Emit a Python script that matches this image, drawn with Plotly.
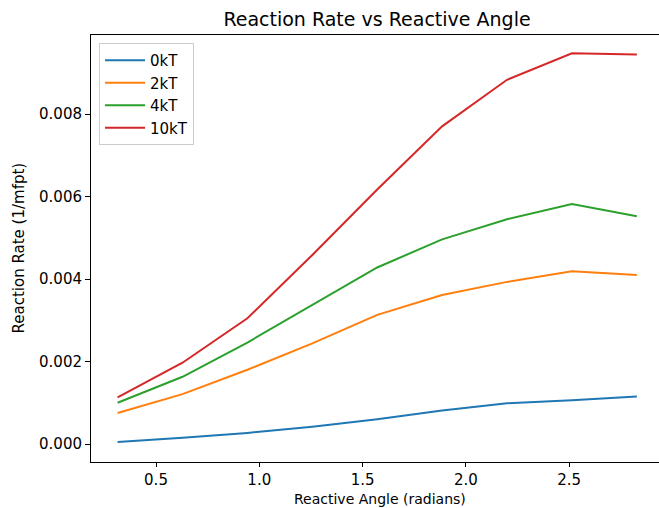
import numpy as np
import plotly.graph_objects as go

angles = [np.pi * k / 10 for k in range(1, 10)]
series_names = ["0kT", "2kT", "4kT", "10kT"]
rate_0kT = [0.00005, 0.00015, 0.00027, 0.00042, 0.00060, 0.00081, 0.00099, 0.00106, 0.00115]
rate_2kT = [0.00075, 0.00121, 0.00180, 0.00244, 0.00313, 0.00361, 0.00393, 0.00419, 0.00410]
rate_4kT = [0.00100, 0.00163, 0.00246, 0.00337, 0.00428, 0.00496, 0.00545, 0.00582, 0.00552]
rate_10kT = [0.00113, 0.00197, 0.00305, 0.00458, 0.00617, 0.00770, 0.00883, 0.00947, 0.00944]
y_ticks = [0.000, 0.002, 0.004, 0.006, 0.008]
x_ticks = [0.5, 1.0, 1.5, 2.0, 2.5]

colors = ["#1f77b4", "#ff7f0e", "#2ca02c", "#d62728"]
font_family = "DejaVu Sans"

fig = go.Figure()
for name, vals, c in zip(series_names, [rate_0kT, rate_2kT, rate_4kT, rate_10kT], colors):
    fig.add_trace(go.Scatter(x=angles, y=vals, mode="lines", name=name,
                             line=dict(color=c, width=2)))

W, H = 659, 508
L, T, B = 91, 35, 46
fig.update_layout(
    width=W, height=H,
    margin=dict(l=L, r=0, t=T, b=B),
    paper_bgcolor="white", plot_bgcolor="white",
    font=dict(family=font_family, size=15, color="black"),
    title=dict(text="Reaction Rate vs Reactive Angle", x=377 / W, xref="container",
               xanchor="center", y=1 - 19 / H, yref="container", yanchor="middle",
               font=dict(size=19, family=font_family, color="black")),
    showlegend=True,
    legend=dict(x=(99 - L) / (W - L), y=1 - (43 - T) / (462 - T), xanchor="left", yanchor="top",
                bgcolor="rgba(255,255,255,0.8)", bordercolor="#cccccc", borderwidth=1,
                itemwidth=40,
                font=dict(size=15, family=font_family, color="black")),
    xaxis=dict(range=[0.1854, 2.9347], tickvals=x_ticks, ticktext=[f"{v:.1f}" for v in x_ticks],
               showgrid=False, zeroline=False, showline=True, linecolor="black", linewidth=1,
               mirror=True, ticks="outside", ticklen=4, tickcolor="black",
               tickfont=dict(size=15, color="black")),
    yaxis=dict(range=[-0.000436, 0.009915], tickvals=y_ticks, ticktext=[f"{v:.3f}" for v in y_ticks],
               showgrid=False, zeroline=False, showline=True, linecolor="black", linewidth=1,
               ticks="outside", ticklen=5, tickcolor="black",
               tickfont=dict(size=15, color="black")),
    annotations=[
        dict(text="Reactive Angle (radians)", xref="paper", yref="paper",
             x=(380 - L) / (W - L), y=-(499 - 462) / (462 - T), xanchor="center", yanchor="middle",
             showarrow=False, font=dict(size=14, family=font_family, color="black")),
        dict(text="Reaction Rate (1/mfpt)", xref="paper", yref="paper",
             x=-(L - 18) / (W - L), y=0.5, xanchor="center", yanchor="middle", textangle=-90,
             showarrow=False, font=dict(size=15, family=font_family, color="black")),
    ],
)

fig.write_html("out.html")
